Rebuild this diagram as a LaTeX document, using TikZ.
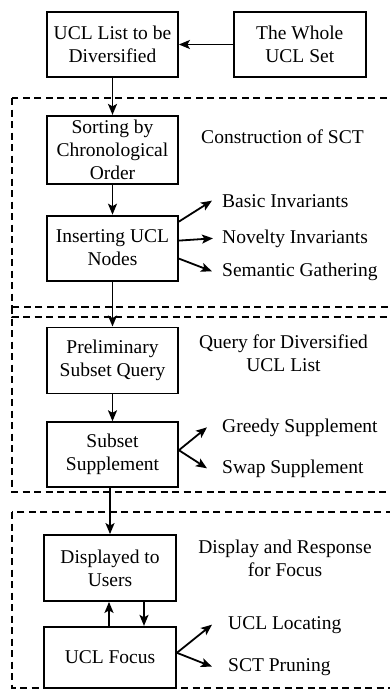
\documentclass[tikz,border=0pt]{standalone}
\usepackage{fontspec}
\setmainfont{Liberation Serif}
\usetikzlibrary{positioning,arrows.meta}

\tikzset{
  procbox/.style={
    rectangle,
    draw,
    line width=1.8pt,
    minimum width=131pt,
    minimum height=65pt,
    inner sep=1pt,
    align=center},
  note/.style={anchor=base west, inner sep=0pt},
  group/.style={draw, line width=1.4pt, dash pattern=on 7pt off 4.5pt},
  flow/.style={-{Stealth[length=11pt,width=9pt,inset=2.5pt]}, line width=1.8pt},
}

\begin{document}
\begin{tikzpicture}[x=1pt, y=-1pt, font=\fontsize{19.5}{23}\selectfont]
  \useasboundingbox (0,0) rectangle (390,689);
  \clip (0,0) rectangle (390,689);

  % dashed stages
  \draw[group] (12,98) rectangle (400,317);
  \draw[group] (12,307) rectangle (400,492);
  \draw[group] (12,512) rectangle (400,688);

  \node[procbox] (list) at (112.5,44.5) {UCL List to be\\Diversified};
  \node[procbox, right=54pt of list, minimum width=132pt] (whole) {The Whole\\UCL Set};

  \node[procbox, below=37pt of list, minimum height=68pt] (sort) {Sorting by\\Chronological\\Order};
  \node[procbox, below=30pt of sort] (insert) {Inserting UCL\\Nodes};

  \node[procbox, below=45pt of insert, minimum height=66pt] (prelim) {Preliminary\\Subset Query};
  \node[procbox, below=27pt of prelim] (subset) {Subset\\Supplement};

  \node[procbox, below=46pt of subset, xshift=-2.5pt, minimum width=132pt, minimum height=66pt] (disp) {Displayed to\\Users};
  \node[procbox, below=24pt of disp, minimum width=132pt, minimum height=61pt] (focus) {UCL Focus};

  % stage titles
  \node[anchor=base] (tsct) at (282.5,143) {Construction of SCT};
  \node[align=center] (tquery) at (283.5,353) {Query for Diversified\\UCL List};
  \node[align=center] (tdisp) at (285,558) {Display and Response\\for Focus};

  % side results
  \node[note] (basic) at (222,207) {Basic Invariants};
  \node[note] (novel) at (222,243) {Novelty Invariants};
  \node[note] (gather) at (222,276) {Semantic Gathering};
  \node[note] (greedy) at (222,432) {Greedy Supplement};
  \node[note] (swap) at (222,473) {Swap Supplement};
  \node[note] (locate) at (228,629) {UCL Locating};
  \node[note] (prune) at (228,671) {SCT Pruning};

  \draw[flow] (whole) -- (list);
  \draw[flow] (list) -- (sort);
  \draw[flow] (sort) -- (insert);
  \draw[flow] (insert) -- (prelim);
  \draw[flow] (prelim) -- (subset);
  \draw[flow] (subset.south -| disp.north) -- (disp.north);
  \draw[flow] ([xshift=-1pt]focus.north) -- ([xshift=-1pt]disp.south);
  \draw[flow] ([xshift=34pt]disp.south) -- ([xshift=34pt]focus.north);

  \draw[flow] ([yshift=26.5pt]insert.east) -- ([xshift=-10pt]basic.west);
  \draw[flow] ([yshift=7.5pt]insert.east) -- ([xshift=-9pt]novel.west);
  \draw[flow] ([yshift=-10.5pt]insert.east) -- ([xshift=-10pt]gather.west);
  \draw[flow] ([yshift=4.5pt]subset.east) -- ([xshift=-15pt]greedy.west);
  \draw[flow] ([yshift=4.5pt]subset.east) -- ([xshift=-15pt]swap.west);
  \draw[flow] ([yshift=4.5pt]focus.east) -- ([xshift=-16pt]locate.west);
  \draw[flow] ([yshift=4.5pt]focus.east) -- ([xshift=-16pt]prune.west);
\end{tikzpicture}
\end{document}
